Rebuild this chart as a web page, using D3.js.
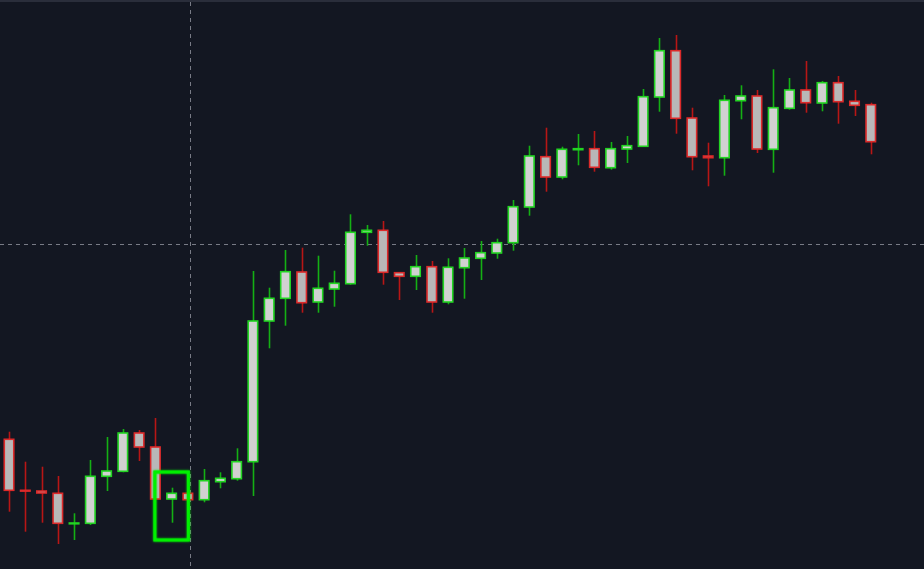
<!DOCTYPE html>
<html>
<head>
<meta charset="utf-8">
<script src="https://cdn.jsdelivr.net/npm/d3@7"></script>
<style>
  html, body { margin: 0; padding: 0; background: #131722; overflow: hidden; }
</style>
</head>
<body>
<div id="chart"></div>
<script>
// OHLC (arbitrary price units, no axis shown)
const opens  = [106.07, 100.97, 100.90, 100.67, 97.62, 97.67, 102.37, 102.87, 106.70, 105.30,
                100.10, 100.67, 100.03, 101.83, 102.13, 103.83, 117.90, 120.17, 122.80, 119.80,
                121.10, 121.63, 126.77, 126.97, 122.73, 122.37, 123.33, 119.80, 123.23, 124.17,
                124.70, 125.73, 129.30, 134.33, 132.30, 135.03, 135.13, 133.23, 135.10, 135.37,
                140.30, 144.93, 138.20, 134.40, 134.23, 139.93, 140.40, 135.07, 139.17, 141.00,
                139.70, 141.73, 139.87, 139.53];
const highs  = [106.83, 103.83, 103.33, 102.40, 98.67, 104.00, 106.30, 107.10, 107.00, 108.20,
                101.23, 100.70, 103.10, 102.77, 105.17, 122.90, 121.23, 125.00, 125.23, 124.43,
                122.93, 128.57, 127.50, 127.90, 122.75, 124.50, 123.90, 124.17, 125.20, 125.90,
                126.13, 130.00, 135.43, 137.23, 135.33, 136.60, 136.90, 135.80, 136.40, 141.10,
                146.20, 146.50, 139.23, 135.73, 140.50, 141.47, 141.00, 143.07, 142.20, 143.90,
                141.90, 142.40, 141.00, 139.73];
const lows   = [98.83, 96.83, 97.73, 95.60, 96.00, 97.50, 100.90, 102.77, 103.90, 100.05,
                97.73, 100.00, 99.77, 101.17, 101.93, 100.40, 115.17, 117.43, 118.73, 118.73,
                119.33, 121.53, 125.43, 121.53, 120.00, 121.00, 118.73, 119.57, 120.13, 122.00,
                124.13, 124.93, 128.43, 130.83, 132.07, 133.47, 132.83, 133.03, 133.70, 135.33,
                138.83, 136.63, 132.97, 131.37, 132.43, 138.07, 134.70, 132.73, 139.03, 138.73,
                138.87, 137.63, 138.40, 134.57];
const closes = [100.97, 100.91, 100.70, 97.67, 97.70, 102.37, 102.90, 106.70, 105.30, 100.10,
                100.67, 100.03, 101.93, 102.17, 103.83, 117.90, 120.17, 122.83, 119.73, 121.17,
                121.67, 126.77, 126.97, 122.77, 122.37, 123.33, 119.80, 123.27, 124.20, 124.73,
                125.73, 129.33, 134.40, 132.30, 135.07, 135.13, 133.27, 135.13, 135.43, 140.33,
                144.93, 138.17, 134.33, 134.23, 139.97, 140.40, 135.10, 139.23, 141.00, 139.73,
                141.73, 139.83, 139.47, 135.83];

// crosshair and highlight box
const crosshairIndex = 11.1;
const crosshairPrice = 125.6;
const highlightIndex = 10;
const highlightHigh = 102.8;
const highlightLow = 96.0;

const width = 924, height = 569;

const candles = opens.map((o, i) => ({
  i: i, open: o, high: highs[i], low: lows[i], close: closes[i]
}));

const x = d3.scaleBand()
  .domain(d3.range(candles.length))
  .range([0.9, 878.9])
  .paddingInner(0.416)
  .paddingOuter(0.208);

const y = d3.scaleLinear()
  .domain([93.1, 150])
  .range([height, 0]);

const cx = i => x(i) + x.bandwidth() / 2;
const posX = v => x(0) + x.bandwidth() / 2 + v * x.step();

const svg = d3.select("#chart")
  .append("svg")
  .attr("width", width)
  .attr("height", height)
  .attr("viewBox", `0 0 ${width} ${height}`)
  .style("display", "block");

// soft glow for the highlight box
const glow = svg.append("defs").append("filter")
  .attr("id", "glow")
  .attr("x", "-20%").attr("y", "-20%")
  .attr("width", "140%").attr("height", "140%");
glow.append("feGaussianBlur").attr("stdDeviation", 1).attr("result", "b");
const merge = glow.append("feMerge");
merge.append("feMergeNode").attr("in", "b");
merge.append("feMergeNode").attr("in", "SourceGraphic");

svg.append("rect")
  .attr("width", width)
  .attr("height", height)
  .attr("fill", "#131722");

// thin top border strip
svg.append("rect")
  .attr("width", width)
  .attr("height", 2)
  .attr("fill", "#2a2e3b");

// crosshair
const crossX = Math.round(posX(crosshairIndex)) + 0.5;
const crossY = Math.round(y(crosshairPrice)) + 0.5;
svg.append("line")
  .attr("x1", crossX).attr("x2", crossX)
  .attr("y1", 2).attr("y2", height)
  .attr("stroke", "#787b86")
  .attr("stroke-width", 1)
  .attr("stroke-dasharray", "4,4");
svg.append("line")
  .attr("x1", 0).attr("x2", width)
  .attr("y1", crossY).attr("y2", crossY)
  .attr("stroke", "#787b86")
  .attr("stroke-width", 1)
  .attr("stroke-dasharray", "4,4");

const up = d => d.close >= d.open;

const g = svg.append("g");

// wicks
g.selectAll("line.wick")
  .data(candles)
  .join("line")
  .attr("class", "wick")
  .attr("x1", d => Math.round(cx(d.i)) + 0.5)
  .attr("x2", d => Math.round(cx(d.i)) + 0.5)
  .attr("y1", d => y(d.high))
  .attr("y2", d => y(d.low))
  .attr("stroke", d => up(d) ? "#14b014" : "#b81616")
  .attr("stroke-width", 1.6);

// bodies
g.selectAll("rect.body")
  .data(candles)
  .join("rect")
  .attr("class", "body")
  .attr("x", d => x(d.i))
  .attr("width", x.bandwidth())
  .attr("y", d => y(Math.max(d.open, d.close)))
  .attr("height", d => Math.max(0.8, Math.abs(y(d.open) - y(d.close))))
  .attr("fill", d => up(d) ? "#d1d1d1" : "#b8b8b8")
  .attr("stroke", d => up(d) ? "#22d422" : "#dc2a2a")
  .attr("stroke-width", 1.6);

// highlight box around one candle
svg.append("rect")
  .attr("x", cx(highlightIndex) - x.step() - 0.5)
  .attr("width", 2 * x.step() + 1)
  .attr("y", y(highlightHigh))
  .attr("height", y(highlightLow) - y(highlightHigh))
  .attr("fill", "none")
  .attr("stroke", "#00f000")
  .attr("stroke-width", 3)
  .attr("filter", "url(#glow)");
</script>
</body>
</html>
